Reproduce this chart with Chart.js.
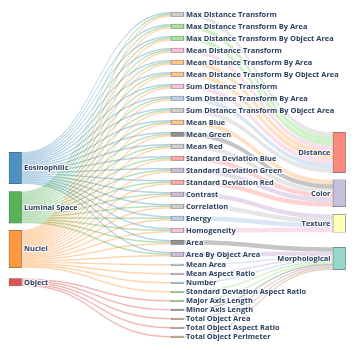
<!DOCTYPE html>
<html>
<head>
<meta charset="utf-8">
<script src="https://cdn.jsdelivr.net/npm/chart.js@4/dist/chart.umd.min.js"></script>
<style>
  html, body { margin: 0; padding: 0; background: #fff; }
  #wrap { width: 358px; height: 350px; }
</style>
</head>
<body>
<div id="wrap"><canvas id="c" width="358" height="350"></canvas></div>
<script>
// ---------------- DATA ----------------
const sourceNodes = ['Eosinophilic', 'Luminal Space', 'Nuclei', 'Object'];

const featureNodes = [
  'Max Distance Transform', 'Max Distance Transform By Area', 'Max Distance Transform By Object Area',
  'Mean Distance Transform', 'Mean Distance Transform By Area', 'Mean Distance Transform By Object Area',
  'Sum Distance Transform', 'Sum Distance Transform By Area', 'Sum Distance Transform By Object Area',
  'Mean Blue', 'Mean Green', 'Mean Red',
  'Standard Deviation Blue', 'Standard Deviation Green', 'Standard Deviation Red',
  'Contrast', 'Correlation', 'Energy', 'Homogeneity',
  'Area', 'Area By Object Area',
  'Mean Area', 'Mean Aspect Ratio', 'Number', 'Standard Deviation Aspect Ratio',
  'Major Axis Length', 'Minor Axis Length', 'Total Object Area', 'Total Object Aspect Ratio', 'Total Object Perimeter'
];

const groupNodes = ['Distance', 'Color', 'Texture', 'Morphological'];

// group of each feature (parallel to featureNodes)
const featureGroups = [
  'Distance', 'Distance', 'Distance', 'Distance', 'Distance', 'Distance', 'Distance', 'Distance', 'Distance',
  'Color', 'Color', 'Color', 'Color', 'Color', 'Color',
  'Texture', 'Texture', 'Texture', 'Texture',
  'Morphological', 'Morphological',
  'Morphological', 'Morphological', 'Morphological', 'Morphological',
  'Morphological', 'Morphological', 'Morphological', 'Morphological', 'Morphological'
];

// links from each source category to features
const sharedImageFeatures = [
  'Max Distance Transform', 'Max Distance Transform By Area', 'Max Distance Transform By Object Area',
  'Mean Distance Transform', 'Mean Distance Transform By Area', 'Mean Distance Transform By Object Area',
  'Sum Distance Transform', 'Sum Distance Transform By Area', 'Sum Distance Transform By Object Area',
  'Mean Blue', 'Mean Green', 'Mean Red',
  'Standard Deviation Blue', 'Standard Deviation Green', 'Standard Deviation Red',
  'Contrast', 'Correlation', 'Energy', 'Homogeneity',
  'Area', 'Area By Object Area'
];
const eosinophilicTargets = sharedImageFeatures;
const eosinophilicValues  = [1,1,1,1,1,1,1,1,1,1,1,1,1,1,1,1,1,1,1,1,1];
const luminalSpaceTargets = sharedImageFeatures;
const luminalSpaceValues  = [1,1,1,1,1,1,1,1,1,1,1,1,1,1,1,1,1,1,1,1,1];
const nucleiTargets = sharedImageFeatures.concat(['Mean Area', 'Mean Aspect Ratio', 'Number', 'Standard Deviation Aspect Ratio']);
const nucleiValues  = [1,1,1,1,1,1,1,1,1,1,1,1,1,1,1,1,1,1,1,1,1,1,1,1,1];
const objectTargets = ['Major Axis Length', 'Minor Axis Length', 'Total Object Area', 'Total Object Aspect Ratio', 'Total Object Perimeter'];
const objectValues  = [1,1,1,1,1];

// ---------------- STYLE ----------------
const sourceColors = ['#1f77b4', '#2ca02c', '#ff7f0e', '#d62728'];
const featureColors = [
  '#c7c7c7', '#98df8a', '#98df8a', '#f7b6d2', '#ffbb78', '#ffbb78', '#f7b6d2', '#aec7e8', '#c7c7c7',
  '#ffbb78', '#7f7f7f', '#c7c7c7', '#ff9896', '#c5b0d5', '#ff9896',
  '#c5b0d5', '#c7c7c7', '#aec7e8', '#f7b6d2',
  '#7f7f7f', '#c5b0d5',
  '#aec7e8', '#c5b0d5', '#aec7e8', '#98df8a',
  '#98df8a', '#7f7f7f', '#c49c94', '#c49c94', '#c4a56a'
];
const groupColors = ['#fb8072', '#bebada', '#ffffb3', '#8dd3c7'];

// layout (in flow units; 1 unit of flow = one link)
const columnTops = [93.5, 0, 80.2];
const columnGaps = [[5.25, 4.75, 7.2], null, [4.67, 4.93, 10]];
const middleGap = 5;
const yMaxUnits = 217;

// ---------------- BUILD GRAPH ----------------
function blend(hex, a) {
  const n = parseInt(hex.slice(1), 16);
  const r = (n >> 16) & 255, g = (n >> 8) & 255, b = n & 255;
  const f = v => Math.round(255 - a * (255 - v));
  return `rgb(${f(r)},${f(g)},${f(b)})`;
}
function rgba(hex, a) {
  const n = parseInt(hex.slice(1), 16);
  return `rgba(${(n >> 16) & 255},${(n >> 8) & 255},${n & 255},${a})`;
}

const nodes = [];
const byName = {};
function addNode(name, col, color, fillA, linkA) {
  const nd = { name, col, color, fill: blend(color, fillA), linkColor: rgba(color, linkA), inV: 0, outV: 0, srcLinks: [], tgtLinks: [] };
  nodes.push(nd); byName[col + ':' + name] = nd; return nd;
}
sourceNodes.forEach((n, i) => addNode(n, 0, sourceColors[i], 0.8, 0.33));
featureNodes.forEach((n, i) => addNode(n, 1, featureColors[i], 0.85, 0.45));
groupNodes.forEach((n, i) => addNode(n, 2, groupColors[i], 0.92, 0.4));

const links = [];
function addLink(sName, sCol, tName, value) {
  const s = byName[sCol + ':' + sName], t = byName[(sCol + 1) + ':' + tName];
  const l = { s, t, value };
  links.push(l); s.srcLinks.push(l); t.tgtLinks.push(l);
  s.outV += value; t.inV += value;
}
const srcTargetLists = [eosinophilicTargets, luminalSpaceTargets, nucleiTargets, objectTargets];
const srcValueLists = [eosinophilicValues, luminalSpaceValues, nucleiValues, objectValues];
sourceNodes.forEach((sn, i) => srcTargetLists[i].forEach((tn, j) => addLink(sn, 0, tn, srcValueLists[i][j])));
featureNodes.forEach((fn, i) => {
  const f = byName['1:' + fn];
  addLink(fn, 1, featureGroups[i], f.inV);
});
nodes.forEach(n => n.value = Math.max(n.inV, n.outV));

// stack nodes in columns
[0, 1, 2].forEach(col => {
  const colNodes = nodes.filter(n => n.col === col);
  let y = columnTops[col];
  colNodes.forEach((n, i) => {
    n.y0 = y; n.y1 = y + n.value;
    const g = columnGaps[col] ? columnGaps[col][i] : middleGap;
    y = n.y1 + (g || 0);
  });
});
// link offsets (sorted by opposite node position)
nodes.forEach(n => {
  n.srcLinks.sort((a, b) => a.t.y0 - b.t.y0);
  n.tgtLinks.sort((a, b) => a.s.y0 - b.s.y0);
  let y = n.y0; n.srcLinks.forEach(l => { l.sy = y; y += l.value; });
  y = n.y0; n.tgtLinks.forEach(l => { l.ty = y; y += l.value; });
});

const nodeBars = nodes.map(n => ({ x: n.col, y: [n.y0, n.y1] }));
const nodeFills = nodes.map(n => n.fill);

// ---------------- PLUGIN ----------------
const BAR_W = 12.5;
const sankeyPlugin = {
  id: 'sankeyFlows',
  beforeDatasetsDraw(chart) {
    const { ctx, scales: { x, y } } = chart;
    ctx.save();
    links.forEach(l => {
      const x0 = x.getPixelForValue(l.s.col) + BAR_W / 2;
      const x1 = x.getPixelForValue(l.t.col) - BAR_W / 2;
      const xm = (x0 + x1) / 2;
      const a0 = y.getPixelForValue(l.sy), a1 = y.getPixelForValue(l.sy + l.value);
      const b0 = y.getPixelForValue(l.ty), b1 = y.getPixelForValue(l.ty + l.value);
      ctx.beginPath();
      ctx.moveTo(x0, a0);
      ctx.bezierCurveTo(xm, a0, xm, b0, x1, b0);
      ctx.lineTo(x1, b1);
      ctx.bezierCurveTo(xm, b1, xm, a1, x0, a1);
      ctx.closePath();
      ctx.fillStyle = l.s.linkColor;
      ctx.fill();
    });
    ctx.restore();
  },
  afterDatasetsDraw(chart) {
    const { ctx, scales: { x, y } } = chart;
    ctx.save();
    ctx.font = '700 7.45px "Open Sans"';
    ctx.textBaseline = 'middle';
    ctx.lineJoin = 'round';
    nodes.forEach(n => {
      const cy = y.getPixelForValue((n.y0 + n.y1) / 2) + 0.3;
      let tx, align;
      if (n.col === 2) { tx = x.getPixelForValue(n.col) - BAR_W / 2 - 2.5; align = 'right'; }
      else { tx = x.getPixelForValue(n.col) + BAR_W / 2 + 2.5; align = 'left'; }
      ctx.textAlign = align;
      ctx.strokeStyle = 'rgba(255,255,255,0.85)';
      ctx.lineWidth = 2.2;
      ctx.strokeText(n.name, tx, cy);
      ctx.fillStyle = '#2a3f5f';
      ctx.fillText(n.name, tx, cy);
    });
    ctx.restore();
  }
};

new Chart(document.getElementById('c'), {
  type: 'bar',
  data: {
    datasets: [{
      data: nodeBars,
      backgroundColor: nodeFills,
      borderColor: '#555',
      borderWidth: 0.6,
      borderSkipped: false,
      barThickness: BAR_W,
      inflateAmount: 0.3,
      grouped: false,
      clip: false
    }]
  },
  options: {
    responsive: false,
    animation: false,
    devicePixelRatio: 1,
    layout: { padding: { left: 15.25, right: 18.75, top: 12, bottom: 12.5 } },
    scales: {
      x: { type: 'linear', min: 0, max: 2, offset: false, display: false },
      y: { type: 'linear', min: 0, max: yMaxUnits, reverse: true, display: false }
    },
    plugins: { legend: { display: false }, tooltip: { enabled: false } }
  },
  plugins: [sankeyPlugin]
});
</script>
</body>
</html>
